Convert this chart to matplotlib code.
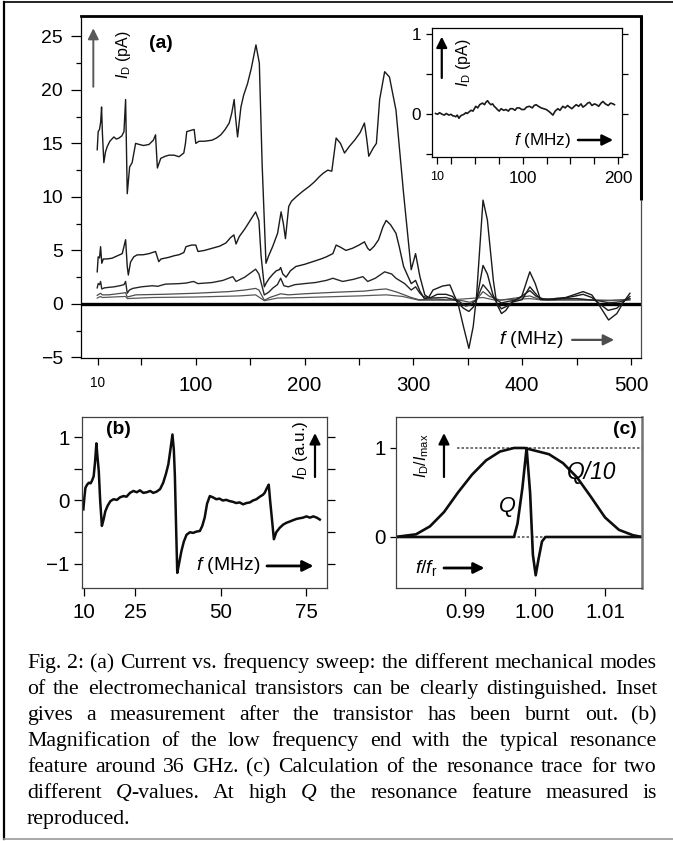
import matplotlib
matplotlib.use('Agg')
import matplotlib.pyplot as plt
from matplotlib import font_manager as fm
from matplotlib.lines import Line2D
from matplotlib.ticker import FixedLocator

# ---------------- data ----------------
# panel (a): drain current vs frequency, five drive levels, (f [MHz], I [pA])
curve1 = [(9.4, 14.4), (10.3, 16.1), (11.5, 16.3), (12.6, 17.0), (13.4, 18.4), (14.2, 15.9),
          (15.5, 13.2), (17.0, 14.2), (18.6, 14.7), (21.0, 15.2), (24.7, 15.6), (27.0, 15.4),
          (29.4, 15.5), (32.0, 15.7), (34.0, 16.1), (35.5, 19.1), (37.0, 10.3), (39.2, 12.8),
          (41.5, 13.2), (44.7, 15.0), (48, 14.9), (52, 14.8), (57, 14.9), (61, 15.3), (63, 15.8),
          (64.7, 12.7), (67.8, 13.6), (72, 13.8), (75.4, 13.9), (80, 13.9), (84.6, 13.75),
          (89, 14.1), (90.5, 15.0), (91.7, 16.1), (95, 16.2), (98.5, 16.3), (100, 15.0),
          (103, 15.2), (108, 15.2), (115, 15.3), (119, 15.5), (123, 15.8), (127, 16.3),
          (130.7, 16.9), (133, 17.8), (135.3, 19.1), (136.5, 17.5), (138.4, 15.6), (141.5, 18.4),
          (144, 19.5), (147.6, 20.6), (151, 22.0), (155.3, 24.2), (158.4, 22.5), (161, 13.0),
          (164.5, 3.8), (167, 4.5), (170.6, 5.35), (173, 6.0), (175.2, 6.6), (178.4, 8.6),
          (180.5, 7.5), (182.4, 6.1), (185.4, 9.1), (188, 9.6), (192.2, 10.0), (198, 10.5),
          (204.5, 11.0), (209, 11.4), (213.7, 11.9), (217, 12.2), (221.3, 12.5), (225, 12.4),
          (229, 15.5), (233, 15.0), (236.7, 14.1), (241, 14.7), (246, 15.3), (251, 16.0),
          (255, 16.9), (257, 15.5), (259, 13.8), (263, 14.55), (266, 15.0), (269, 19.1),
          (273.6, 21.7), (278, 21.2), (284, 18.1), (291, 10.3), (298, 3.2), (302, 4.7),
          (306, 2.55), (310.5, 0.84), (314, 0.6), (318, 1.3), (327, 1.68), (333.5, 1.78),
          (338, 0.7), (341, 0.05), (346, -2.1), (351, -4.15), (355, -2.1), (358, 0.7),
          (364, 9.7), (368, 7.85), (373.5, 2.2), (376.6, 0.0), (381, -0.9), (385, -0.6),
          (390, 0.15), (399.6, 0.7), (407, 3.0), (412, 1.9), (416.5, 0.5), (424, 0.4),
          (431.8, 0.53), (440, 0.6), (447, 0.84), (456, 1.15), (464, 0.84), (470, 0.0),
          (479.4, -1.5), (487, -0.9), (493, 0.15), (499, 1.0)]
curve2 = [(9.4, 3.0), (10.3, 4.4), (11.5, 4.3), (12.5, 5.35), (13.6, 3.8), (15, 4.2), (18, 4.2),
          (23, 4.27), (28, 4.5), (32.4, 4.7), (35.5, 6.0), (37, 3.5), (38, 2.7), (40, 3.9),
          (43, 4.4), (46, 4.58), (52, 4.6), (57, 4.7), (63, 4.9), (66, 3.95), (68, 4.2),
          (75, 4.35), (80, 4.5), (84.6, 4.6), (89, 4.8), (91, 5.35), (96, 5.5), (100, 5.5),
          (102, 4.9), (108, 5.0), (115, 5.2), (122, 5.4), (127.7, 5.7), (132, 6.2), (135, 6.45),
          (137, 5.6), (140, 6.3), (145, 7.0), (150, 7.8), (155, 8.6), (158, 7.8), (160, 4.5),
          (163, 1.6), (165, 2.0), (167.6, 2.4), (171, 2.8), (174, 3.1), (176.8, 3.2), (178, 3.4),
          (180, 2.8), (183, 2.5), (187, 3.1), (192, 3.5), (200, 3.7), (207.5, 3.95), (215, 4.2),
          (220, 4.4), (226, 4.7), (229, 5.5), (233, 5.3), (238, 5.0), (244, 5.2), (250, 5.5),
          (255, 5.8), (258, 5.2), (260, 5.0), (264, 5.4), (268, 6.0), (272, 7.2), (275, 7.8),
          (279, 7.4), (284, 6.6), (287, 5.35), (291, 3.5), (298, 1.9), (302, 2.2), (306, 1.2),
          (310, 0.5), (316, 0.6), (322, 0.9), (330, 0.9), (336, 0.7), (341, 0.1), (346, -0.4),
          (351, -0.7), (355, -0.3), (358, 0.3), (364, 3.6), (368, 2.8), (373, 0.9), (377, 0.0),
          (381, -0.45), (386, -0.2), (392, 0.2), (400, 0.4), (407, 1.6), (412, 1.0), (417, 0.4),
          (430, 0.4), (447, 0.7), (456, 0.9), (464, 0.6), (470, 0.1), (479, -0.6), (487, -0.4),
          (493, 0.2), (499, 0.7)]
curve3 = [(9.4, 1.5), (10.3, 1.9), (11.5, 1.8), (12.5, 2.1), (13.6, 1.4), (16, 1.5), (20, 1.55),
          (25, 1.6), (30, 1.7), (34, 1.8), (35.5, 2.1), (37, 1.0), (39, 1.3), (42, 1.45), (50, 1.6),
          (60, 1.7), (65, 1.65), (72, 1.85), (85, 1.9), (91, 1.95), (98, 2.1), (102, 1.9),
          (115, 2.0), (125, 2.2), (134, 2.55), (137, 2.1), (145, 2.5), (155, 3.25), (158, 2.8),
          (163, 0.84), (167, 1.1), (171, 1.5), (175, 1.8), (178, 2.4), (181, 1.7), (185, 1.6),
          (191, 1.8), (200, 1.9), (210, 2.0), (220, 2.2), (226, 2.4), (235, 2.1), (245, 2.3),
          (253.6, 2.55), (258, 2.1), (265, 2.4), (273.6, 3.0), (280, 2.8), (284, 2.4), (292, 1.9),
          (298, 1.3), (302, 1.6), (306, 1.0), (309, 0.7), (315, 0.55), (330, 0.6), (341, 0.3),
          (348, -0.2), (352, -0.1), (358, 0.4), (364, 1.8), (369, 1.2), (374, 0.5), (381, 0.1),
          (395, 0.4), (407, 1.25), (413, 0.7), (420, 0.45), (450, 0.5), (470, 0.3), (480, 0.1),
          (490, 0.2), (499, 0.5)]
curve4 = [(9.4, 0.8), (12.5, 1.0), (14, 0.85), (20, 0.85), (35.5, 1.05), (37, 0.65), (45, 0.85),
          (70, 0.9), (100, 1.0), (130, 1.15), (145, 1.3), (155, 1.45), (158, 1.3), (163, 0.35),
          (168, 0.6), (178, 0.95), (185, 0.85), (200, 0.95), (230, 1.1), (255, 1.2), (268, 1.35),
          (275, 1.4), (285, 1.1), (298, 0.6), (305, 0.4), (320, 0.45), (345, 0.3), (352, 0.15),
          (358, 0.4), (364, 1.15), (370, 0.7), (380, 0.35), (407, 0.75), (415, 0.45), (450, 0.45),
          (480, 0.3), (499, 0.45)]
curve5 = [(9.4, 0.55), (12.5, 0.7), (14, 0.6), (35.5, 0.7), (37, 0.5), (60, 0.6), (100, 0.65),
          (140, 0.75), (155, 0.85), (163, 0.3), (175, 0.55), (200, 0.6), (250, 0.75), (275, 0.85),
          (290, 0.7), (305, 0.35), (330, 0.35), (364, 0.6), (375, 0.35), (407, 0.5), (420, 0.35),
          (499, 0.35)]

# inset: burnt-out transistor (f [MHz], I [pA])
inset_trace = [(8.8, 0.01), (11, 0.0), (13, 0.02), (15.8, 0.0), (18, -0.01), (20, 0.01),
               (22.8, -0.01), (25, 0.0), (27, -0.02), (28.1, -0.02), (30, -0.03), (31.5, -0.01),
               (33.3, -0.05), (35, -0.02), (36.5, -0.01), (38.6, 0.0), (40.5, 0.02), (42, 0.01),
               (43.9, 0.03), (46, 0.05), (48, 0.04), (50.9, 0.1), (53, 0.08), (55, 0.12),
               (57.9, 0.14), (60, 0.12), (61.5, 0.15), (63.2, 0.17), (65, 0.14), (66.7, 0.12),
               (68.5, 0.13), (70.2, 0.10), (72, 0.08), (73.5, 0.06), (75.4, 0.04), (77.5, 0.07),
               (80, 0.05), (82.5, 0.06), (85, 0.04), (87, 0.07), (89.5, 0.07), (92, 0.05),
               (94, 0.08), (96.5, 0.08), (99, 0.06), (101.8, 0.06), (104, 0.09), (107, 0.10),
               (110, 0.08), (112, 0.11), (114, 0.12), (116.5, 0.10), (119.3, 0.08), (122, 0.07),
               (124.6, 0.06), (127, 0.04), (129, 0.02), (131.6, -0.01), (134, 0.04), (136.8, 0.07),
               (139, 0.05), (142, 0.10), (144.5, 0.08), (147, 0.11), (149, 0.09), (151.5, 0.07),
               (154, 0.10), (156, 0.12), (158.5, 0.10), (161, 0.13), (163, 0.09), (165.5, 0.11),
               (168, 0.14), (170, 0.15), (172.5, 0.11), (175, 0.13), (177.2, 0.12), (179.5, 0.10),
               (182, 0.14), (184, 0.16), (186.5, 0.13), (189.5, 0.11), (192, 0.14), (194.7, 0.13),
               (196, 0.12)]

# panel (b): low-frequency magnification (f [MHz], I [a.u.])
trace_b = [(9.9, -0.14), (10.2, 0.05), (10.5, 0.2), (11.0, 0.25), (11.5, 0.28), (12.0, 0.27),
           (12.4, 0.31), (12.9, 0.38), (13.3, 0.6), (13.7, 0.9), (14.0, 0.7), (14.4, 0.46),
           (14.8, 0.0), (15.3, -0.40), (15.8, -0.3), (16.3, -0.17), (17.0, -0.08), (17.8, -0.01),
           (18.7, 0.02), (19.7, 0.01), (20.6, 0.05), (21.6, 0.07), (22.5, 0.06), (23.5, 0.12),
           (24.5, 0.15), (25.5, 0.13), (26.4, 0.16), (27.4, 0.12), (28.4, 0.13), (29.4, 0.15),
           (30.3, 0.12), (31.3, 0.14), (32.3, 0.18), (33.2, 0.28), (34.0, 0.42), (34.7, 0.57),
           (35.3, 0.8), (35.9, 1.04), (36.3, 0.8), (36.6, 0.4), (37.0, -0.5), (37.3, -1.14),
           (37.8, -1.0), (38.5, -0.80), (39.2, -0.65), (40.0, -0.54), (41.0, -0.50), (41.9, -0.51),
           (42.9, -0.49), (43.9, -0.48), (44.6, -0.40), (45.3, -0.27), (46.0, -0.05), (46.8, 0.07),
           (47.7, 0.05), (48.7, 0.02), (49.6, 0.03), (50.6, 0.0), (51.6, 0.01), (52.6, -0.01),
           (53.5, -0.02), (54.5, -0.04), (55.5, -0.03), (56.5, -0.06), (57.5, -0.04), (58.5, -0.03),
           (59.4, 0.0), (60.4, 0.02), (61.4, 0.06), (62.3, 0.09), (62.8, 0.12), (63.5, 0.2),
           (64.0, 0.25), (64.4, 0.0), (64.8, -0.22), (65.5, -0.61), (66.2, -0.5), (67.2, -0.43),
           (68.2, -0.38), (69.2, -0.35), (70.2, -0.33), (71.1, -0.31), (72.1, -0.29), (73.0, -0.28),
           (74.0, -0.27), (75.0, -0.25), (76.0, -0.27), (77.0, -0.25), (78.0, -0.27), (78.9, -0.30)]

# panel (c): calculated resonance traces (f/f_r, I/I_max)
trace_q10 = [(0.9801, 0.0), (0.981, 0.01), (0.983, 0.03), (0.985, 0.12), (0.987, 0.28),
             (0.989, 0.50), (0.991, 0.70), (0.993, 0.86), (0.995, 0.96), (0.997, 1.0),
             (0.9985, 1.0), (1.000, 0.97), (1.002, 0.93), (1.004, 0.83), (1.006, 0.67),
             (1.008, 0.45), (1.010, 0.22), (1.012, 0.08), (1.014, 0.02), (1.0153, 0.0)]
trace_q = [(0.9801, 0.0), (0.9970, 0.0), (0.9975, 0.15), (0.9982, 0.55), (0.9988, 1.0),
           (0.9993, 0.5), (0.9997, -0.2), (1.0001, -0.43), (1.0005, -0.25), (1.0010, -0.05),
           (1.0015, 0.0), (1.0153, 0.0)]

a_xticks = [10, 100, 200, 300, 400, 500]
a_xminor = [50, 150, 250, 350, 450]
a_yticks = [-5, 0, 5, 10, 15, 20, 25]
a_yminor = [-2.5, 2.5, 7.5, 12.5, 17.5, 22.5]
in_xticks = [10, 100, 200]
in_xminor = [25, 50, 75, 125, 150, 175]
in_yticks = [-0.5, 0, 0.5, 1]
in_ylabels = ['', '0', '', '1']
b_xticks = [10, 25, 50, 75]
b_yticks = [-1, -0.5, 0, 0.5, 1]
b_ylabels = ['\u22121', '', '0', '', '1']
c_xticks = [0.99, 1.00, 1.01]
c_xlabels = ['0.99', '1.00', '1.01']
c_yticks = [0, 1]

caption_lines = [
    "Fig. 2: (a) Current vs. frequency sweep: the different mechanical modes",
    "of the electromechanical transistors can be clearly distinguished. Inset",
    "gives a measurement after the transistor has been burnt out. (b)",
    "Magnification of the low frequency end with the typical resonance",
    "feature around 36 GHz. (c) Calculation of the resonance trace for two",
    "different Q-values. At high Q the resonance feature measured is",
    "reproduced.",
]

# ---------------- fonts ----------------
def pick(cands):
    for c in cands:
        try:
            fm.findfont(fm.FontProperties(family=c), fallback_to_default=False)
            return c
        except Exception:
            pass
    return None

SANS = pick(['Liberation Sans Narrow', 'Arial Narrow'])
K = 1.0
if SANS is None:
    SANS = 'Liberation Sans'
    K = 0.82
SERIF = pick(['Liberation Serif', 'Times New Roman']) or 'DejaVu Serif'

plt.rcParams['font.family'] = [SANS, 'DejaVu Sans']
plt.rcParams['mathtext.fontset'] = 'custom'
plt.rcParams['mathtext.rm'] = SANS
plt.rcParams['mathtext.it'] = SANS + ':italic'
plt.rcParams['mathtext.bf'] = SANS + ':bold'
plt.rcParams['axes.linewidth'] = 0.9


def fs(s):
    return s * K


W, H = 673, 841


def rect(l, t, r, b):
    return [l / W, 1 - b / H, (r - l) / W, (b - t) / H]


def xy(data):
    return [p[0] for p in data], [p[1] for p in data]


def arrow(ax, x0, y0, x1, y1, color='black', lw=1.5, ms=14):
    ax.annotate('', xy=(x1, y1), xytext=(x0, y0), xycoords='axes fraction',
                textcoords='axes fraction',
                arrowprops=dict(arrowstyle='-|>', color=color, lw=lw, mutation_scale=ms,
                                shrinkA=0, shrinkB=0))


fig = plt.figure(figsize=(W / 100, H / 100), dpi=100)
fig.patch.set_facecolor('white')

# ---------------- panel (a) ----------------
axA = fig.add_axes(rect(81, 16, 641, 358))
axA.axhline(0, color='black', lw=2.4, zorder=2)
for data, col, lw in [(curve5, '0.35', 0.9), (curve4, '0.3', 0.9), (curve3, '0.15', 1.0),
                      (curve2, '0.1', 1.0), (curve1, '0.1', 1.0)]:
    x, y = xy(data)
    axA.plot(x, y, color=col, lw=lw, zorder=3)
axA.set_xlim(-5.5, 509.2)
axA.set_ylim(-5.05, 26.9)
axA.set_xticks(a_xticks)
labs = axA.set_xticklabels([str(t) for t in a_xticks], fontsize=fs(18))
labs[0].set_fontsize(fs(12))
axA.xaxis.set_minor_locator(FixedLocator(a_xminor))
axA.set_yticks(a_yticks)
axA.set_yticklabels([str(t).replace('-', '\u2212') for t in a_yticks], fontsize=fs(17))
axA.yaxis.set_minor_locator(FixedLocator(a_yminor))
axA.tick_params(axis='x', which='both', direction='out', length=5, width=0.9, pad=8)
axA.tick_params(axis='y', which='major', direction='out', length=7, width=0.9, pad=6)
axA.tick_params(axis='y', which='minor', direction='out', length=3.5, width=0.9)
axA.spines['top'].set_linewidth(2.0)
axA.spines['right'].set_visible(False)
axA.plot([1, 1], [1, (358 - 200) / 342], transform=axA.transAxes, color='black', lw=2.2,
         clip_on=False, solid_capstyle='butt')
axA.plot([1, 1], [(358 - 200) / 342, 0], transform=axA.transAxes, color='0.3', lw=0.9,
         clip_on=False)
axA.text(0.143, 0.921, '(a)', transform=axA.transAxes, fontsize=fs(17), fontweight='bold',
         ha='center', va='center')
arrow(axA, 0.022, 0.793, 0.022, 0.964, color='0.35', lw=1.4, ms=16)
axA.text(0.076, 0.886, r'$I_\mathrm{D}$ (pA)', transform=axA.transAxes, rotation=90,
         fontsize=fs(14), ha='center', va='center')
axA.text(0.804, 0.053, r'$f$ (MHz)', transform=axA.transAxes, fontsize=fs(17),
         ha='center', va='center')
arrow(axA, 0.877, 0.053, 0.952, 0.053, color='0.3', lw=1.6, ms=16)

# ---------------- inset ----------------
axI = fig.add_axes(rect(431.7, 28.3, 621.7, 156.7))
axI.set_facecolor('white')
x, y = xy(inset_trace)
axI.plot(x, y, color='0.1', lw=1.2)
axI.set_xlim(4.8, 203.6)
axI.set_ylim(-0.53, 1.075)
axI.set_xticks(in_xticks)
labs = axI.set_xticklabels([str(t) for t in in_xticks], fontsize=fs(15))
labs[0].set_fontsize(fs(11))
axI.xaxis.set_minor_locator(FixedLocator(in_xminor))
axI.set_yticks(in_yticks)
axI.set_yticklabels(in_ylabels, fontsize=fs(15))
axI.tick_params(axis='x', which='both', direction='out', length=5, width=0.9, pad=5)
axI.tick_params(axis='y', which='both', direction='out', length=4.5, width=0.9, pad=3,
                right=True)
arrow(axI, 0.053, 0.613, 0.053, 0.935, color='black', lw=1.6, ms=16)
axI.text(0.165, 0.73, r'$I_\mathrm{D}$ (pA)', transform=axI.transAxes, rotation=90,
         fontsize=fs(14), ha='center', va='center')
axI.text(0.586, 0.13, r'$f$ (MHz)', transform=axI.transAxes, fontsize=fs(15),
         ha='center', va='center')
arrow(axI, 0.77, 0.13, 0.955, 0.13, color='black', lw=1.8, ms=16)

# ---------------- panel (b) ----------------
axB = fig.add_axes(rect(82, 417, 327, 588))
x, y = xy(trace_b)
axB.plot(x, y, color='0.05', lw=1.8)
axB.set_xlim(9.5, 81.0)
axB.set_ylim(-1.378, 1.315)
axB.set_xticks(b_xticks)
axB.set_xticklabels([str(t) for t in b_xticks], fontsize=fs(18))
axB.set_yticks(b_yticks)
axB.set_yticklabels(b_ylabels, fontsize=fs(18))
axB.tick_params(axis='x', direction='out', length=5.5, width=0.9, pad=5)
axB.tick_params(axis='y', direction='out', length=6, width=0.9, pad=3, right=True)
for s in axB.spines.values():
    s.set_color('0.25')
axB.text(0.147, 0.924, '(b)', transform=axB.transAxes, fontsize=fs(17), fontweight='bold',
         ha='center', va='center')
arrow(axB, 0.951, 0.649, 0.951, 0.906, color='black', lw=1.6, ms=16)
axB.text(0.89, 0.807, r'$I_\mathrm{D}$ (a.u.)', transform=axB.transAxes, rotation=90,
         fontsize=fs(15), ha='center', va='center')
axB.text(0.597, 0.129, r'$f$ (MHz)', transform=axB.transAxes, fontsize=fs(17),
         ha='center', va='center')
arrow(axB, 0.755, 0.129, 0.945, 0.129, color='black', lw=2.0, ms=16)

# ---------------- panel (c) ----------------
axC = fig.add_axes(rect(396, 417, 642, 588))
axC.plot([0.9889, 1.0153], [1, 1], color='0.35', lw=1.2, ls=(0, (1.5, 1.2)))
axC.axhline(0, color='0.35', lw=1.2, ls=(0, (1.5, 1.2)))
x, y = xy(trace_q10)
axC.plot(x, y, color='0.05', lw=1.9)
x, y = xy(trace_q)
axC.plot(x, y, color='0.05', lw=1.9)
axC.set_xlim(0.98014, 1.01529)
axC.set_ylim(-0.573, 1.348)
axC.set_xticks(c_xticks)
axC.set_xticklabels(c_xlabels, fontsize=fs(18))
axC.set_yticks(c_yticks)
axC.set_yticklabels(['0', '1'], fontsize=fs(18))
axC.tick_params(axis='x', direction='out', length=5.5, width=0.9, pad=5)
axC.tick_params(axis='y', direction='out', length=4.5, width=0.9, pad=3)
for s in axC.spines.values():
    s.set_color('0.25')
axC.spines['right'].set_linewidth(1.8)
axC.spines['right'].set_color('0.45')
axC.text(0.93, 0.924, '(c)', transform=axC.transAxes, fontsize=fs(17), fontweight='bold',
         ha='center', va='center')
axC.text(0.106, 0.772, r'$I_\mathrm{D}/I_\mathrm{max}$', transform=axC.transAxes, rotation=90,
         fontsize=fs(14), ha='center', va='center')
arrow(axC, 0.195, 0.649, 0.195, 0.906, color='black', lw=1.6, ms=16)
axC.text(0.793, 0.673, 'Q/10', transform=axC.transAxes, fontsize=fs(20), style='italic',
         ha='center', va='center')
axC.text(0.451, 0.474, 'Q', transform=axC.transAxes, fontsize=fs(19), style='italic',
         ha='center', va='center')
axC.text(0.077, 0.117, r'$f/f_\mathrm{r}$', transform=axC.transAxes, fontsize=fs(17),
         ha='left', va='center')
arrow(axC, 0.195, 0.117, 0.36, 0.117, color='black', lw=2.0, ms=16)

# ---------------- caption (justified) ----------------
cap_left, cap_right = 27, 657
baselines = [668, 694, 720, 746, 772, 798, 824]
renderer = fig.canvas.get_renderer()


def word_parts(w):
    if w.startswith('Q'):
        return [('Q', 'italic'), (w[1:], 'normal')] if len(w) > 1 else [('Q', 'italic')]
    return [(w, 'normal')]


def measure(s, style, size):
    t = fig.text(0, 0, s, fontsize=size, family=SERIF, style=style)
    wpx = t.get_window_extent(renderer).width
    t.remove()
    return wpx


# choose the caption size so that the widest line just fills the text block
REF = 10.0
natural = []
for line in caption_lines[:-1]:
    natural.append(measure(line.replace('Q', 'O'), 'normal', REF))
CAP_FS = REF * (cap_right - cap_left) / max(natural) * 0.995

space_w = measure('a b', 'normal', CAP_FS) - measure('ab', 'normal', CAP_FS)
for i, line in enumerate(caption_lines):
    words = line.split(' ')
    parts = [word_parts(w) for w in words]
    widths = [sum(measure(s, st, CAP_FS) for s, st in p if s) for p in parts]
    last = (i == len(caption_lines) - 1)
    gap = space_w if last else (cap_right - cap_left - sum(widths)) / (len(words) - 1)
    xpos = cap_left
    ypos = 1 - baselines[i] / H
    for p, wd in zip(parts, widths):
        xp = xpos
        for s, st in p:
            if not s:
                continue
            fig.text(xp / W, ypos, s, fontsize=CAP_FS, family=SERIF, style=st,
                     ha='left', va='baseline')
            xp += measure(s, st, CAP_FS)
        xpos += wd + gap

# ---------------- frame ----------------
fig.add_artist(Line2D([4 / W, 4 / W], [1 - 2 / H, 1 - 839 / H], transform=fig.transFigure,
                      color='black', lw=1.6))
fig.add_artist(Line2D([4 / W, 1], [1 - 2 / H, 1 - 2 / H], transform=fig.transFigure,
                      color='black', lw=1.2))
fig.add_artist(Line2D([4 / W, 1], [1 - 839 / H, 1 - 839 / H], transform=fig.transFigure,
                      color='0.6', lw=1.2))

fig.savefig('out.png', dpi=100, facecolor='white')
